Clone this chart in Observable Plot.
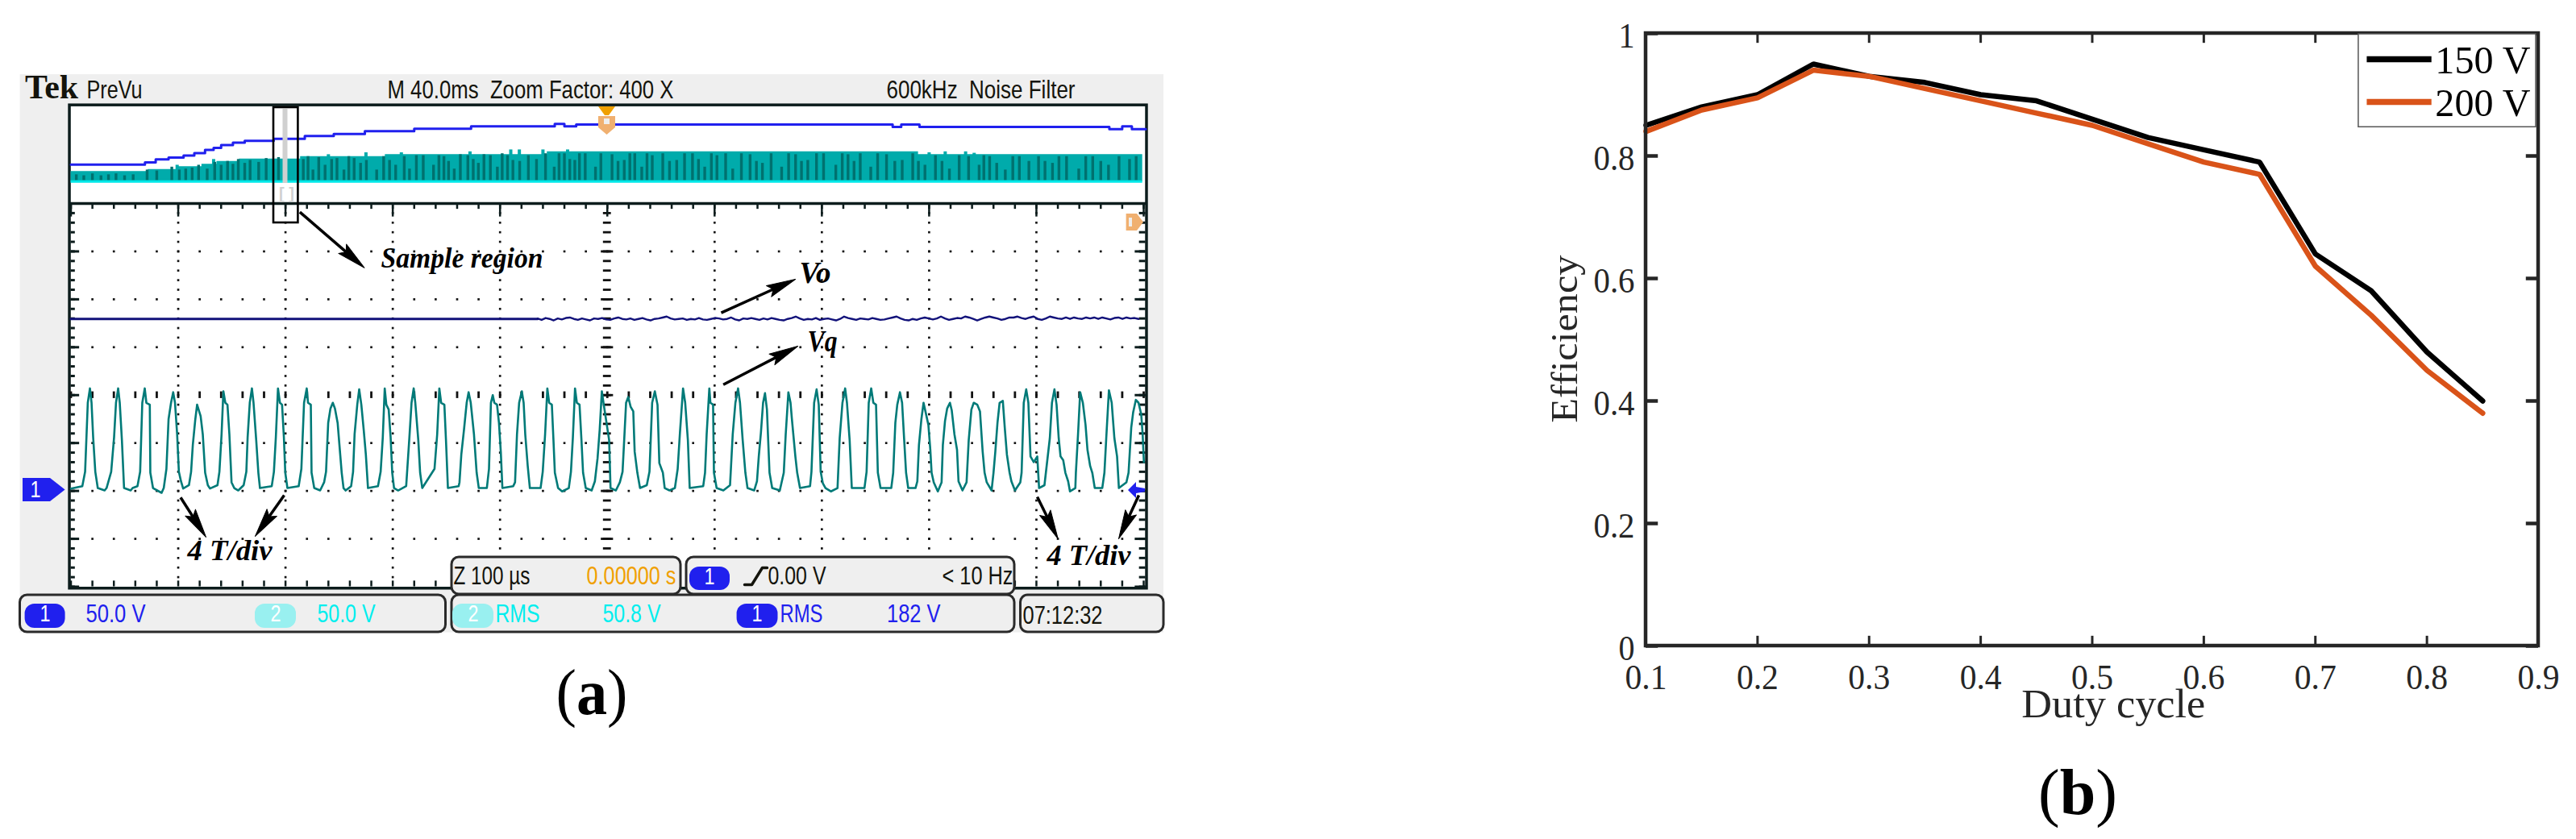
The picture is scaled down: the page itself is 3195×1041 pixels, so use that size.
<!DOCTYPE html>
<html><head><meta charset="utf-8">
<script src="https://cdn.jsdelivr.net/npm/d3@7"></script>
<script src="https://cdn.jsdelivr.net/npm/@observablehq/plot@0.6"></script>
<style>html,body{margin:0;padding:0;background:#fff}#page{position:relative;width:3195px;height:1041px;overflow:hidden;background:#fff}#page svg{position:absolute;top:0;background:transparent}</style>
</head><body><div id="page"></div>
<script>
// ---------- (b) efficiency ----------
const dutyCycle = [0.1,0.15,0.2,0.25,0.3,0.35,0.4,0.45,0.5,0.55,0.6,0.65,0.7,0.75,0.8,0.85];
const eff150 = [0.85,0.88,0.90,0.95,0.93,0.92,0.90,0.89,0.86,0.83,0.81,0.79,0.64,0.58,0.48,0.40];
const eff200 = [0.84,0.875,0.895,0.94,0.93,0.91,0.89,0.87,0.85,0.82,0.79,0.77,0.62,0.54,0.45,0.38];
const dutyTicks = [0.1,0.2,0.3,0.4,0.5,0.6,0.7,0.8,0.9];
const effTicks = [0,0.2,0.4,0.6,0.8,1];

// ---------- (a) oscilloscope: time in us, voltage in V (100 us/div, 50 V/div) ----------
const vqTrace = [[0,2.5],[10.6,5],[13.2,20],[15.7,92],[17.7,107],[19.2,92],[20.7,56],[22.7,20],[25,3],[31.4,.5],[33.2,3],
[37.5,20],[40.2,56],[42,92],[44,107],[45.5,92],[47.5,53],[49.5,3],[55.7,.5],[57.5,3],
[62,5],[64.5,20],[66.5,92],[68.8,107],[70.3,92],[73.5,90],[74,19],[76.5,3],[84.5,-2],[86.5,3],
[89,23],[91,75],[93.3,92],[95.3,103],[97,92],[99,59],[100.6,20],[102.6,10],[104.6,2.5],[110,6],
[112,20],[113.6,48],[115.8,73.5],[117.6,90],[120.9,78],[122.9,59],[125.1,19],[127.6,6],[129.6,2.5],[136.6,6],
[138.4,20],[140.4,59],[142.1,104],[143.9,92],[145.9,90],[147.7,59],[149.7,9],[152.2,3],[156,.5],[161,6],
[163.5,20],[164.7,56],[166.7,92],[168.7,107],[170.2,92],[172.7,53],[174.7,19],[176.2,3],[187.2,5],
[189.2,20],[191,56],[193,107],[194.8,92],[196.8,90],[198.5,56],[199.8,19],[201.8,3],[212.3,5],
[214.8,23],[217.3,92],[219.8,107],[221,92],[223.6,90],[224.3,19],[226.8,3],[232.3,.5],[236,9],
[237.8,20],[239.8,71],[241.9,86],[244.1,92],[246.1,86],[248.6,71],[250.6,43.5],[252.4,19],[254.1,3],[256.1,.5],[261.2,5],
[263,20],[264.4,59],[266.9,90],[268.7,106],[270.7,90],[272.9,64],[274.9,38],[276.9,3],[286.2,5],
[288.7,20],[290.7,56],[292.5,107],[294,90],[296.2,85],[298,56],[299.5,19],[301.2,3],[305,.5],[312.5,5],
[315.5,56],[317.5,92],[319.5,107],[321,92],[323.8,53],[325.5,19],[327.5,3],[338.9,23],
[341.4,59],[343.4,107],[345.1,92],[348.1,90],[349.6,53],[351.4,3],[361.4,5],[362.2,9],
[363.9,38],[366.4,64],[368.9,92],[370.7,103],[372.7,92],[375.7,59],[378.2,19],[380.2,3],[387.7,3],
[389.7,23],[391.5,92],[393.2,100],[394.7,92],[397.2,90],[399,71],[400.7,41],[402.2,3],[412.3,5],
[414,9],[415.8,59],[417.8,92],[420.3,104],[422,92],[423.5,59],[425.8,26],[427.8,3],[437.8,3],
[439.8,20],[442,59],[444.1,107],[445.8,92],[448.3,90],[449.8,53],[451.1,19],[454.1,3],[457.9,-.5],[464.1,3],
[466.1,20],[467.9,56],[469.9,107],[471.6,92],[474.1,90],[475.9,53],[477.4,19],[479.9,3],[485.4,.5],[488.4,10],
[490.9,34],[492.9,64],[494.9,104],[496.7,90],[501.7,53],[503,3],[508,.5],[511.7,9],
[514.2,20],[515.5,48],[517.5,92],[519.5,98],[521.7,88],[524.2,83],[525.5,41],[528,19],[530.5,3],[536.8,6],
[539.3,20],[541.8,92],[544.3,104],[546.8,90],[548.5,29],[551.8,19],[553.5,3],[558,.5],[563,3],
[565.6,23],[567.6,59],[570.6,107],[572.6,92],[575.1,53],[576.8,3],[589.4,5],
[591.1,19],[592.6,59],[595.1,107],[596.1,92],[598.6,90],[599.4,19],[601.9,3],[608.2,.5],[614.4,6],
[616.9,59],[619.4,92],[621.9,107],[623.7,92],[626.2,53],[628.7,19],[630.7,3],[636.9,.5],[639.5,10],
[641.2,36],[643.2,61],[645.2,92],[647,102],[648.8,85],[651.2,19],[653.7,3],[660.8,.5],[664.5,19],
[666.3,59],[668.8,103],[670.8,92],[672,76],[675.3,36],[677,19],[679.6,3],[689,5],
[690.3,20],[692.8,92],[695.1,106],[697.1,90],[698.9,20],[700.9,8],[703.4,3],[708.4,-.5],[714.6,3],
[716.6,55],[719.2,92],[721.7,107],[723.4,92],[725.9,53],[727.9,3],[739.7,3],
[741.7,20],[743.7,92],[746,107],[748,92],[750.5,90],[752.2,19],[754.7,3],[764.7,3],
[766.5,19],[768.5,71],[770.3,90],[772.8,103],[774.8,92],[776.5,58],[778.5,19],[780.5,3],[787.3,3],[789,10],
[790.5,48],[792.8,75],[794.8,92],[799.3,69],[801.1,43],[802.3,19],[804.3,9],[808.1,-.5],[811.6,9],
[812.8,48],[814.8,73],[816.8,86],[819.4,92],[821.1,84],[823.6,59],[826,43],[827.4,10],[831.1,.5],[834.9,9],
[836.9,53],[839.4,85],[841.6,92],[844.9,90],[847.4,83],[849.9,41],[851.7,19],[853.7,9],[858.2,.5],[860,19],
[861.7,41],[863.7,71],[865.7,92],[868.7,94],[870.5,66],[872.5,38],[875,19],[876.7,10],[880,.5],[885,9],
[886.2,19],[888.2,92],[890.5,106],[892.5,92],[894.5,36],[897.5,30],[900.8,36],[902.5,3],[907.5,6],
[912.5,55],[914.5,92],[916.8,106],[918.8,90],[920.8,55],[922.5,36],[925,32],[927,19],[929.6,10],[931.3,-.5],[936.3,3],
[936.8,19],[938.8,59],[940.8,103],[943.3,92],[945.8,69],[947.6,43],[950.1,26],[952.1,19],[954.4,3],[961.4,3],
[963.4,19],[965.1,55],[967.6,105],[970.2,92],[972.7,55],[975.2,36],[976.9,3],[983.9,9],
[985.9,19],[988.4,66],[990.2,82],[992.7,95],[995.2,92],[997.7,80],[999,60],[1000.2,30]];

const voFlatEnd = 435, voLevel = 179.5, voSampleStep = 3.76;
const voRipple = [180,178.5,180.5,179.5,178,180,179,180.5,181,179.5,178.5,180,179,178,180,179.5,180.5,179,178.5,180,181,179.5,179,180,178.5,179.5,180.5,179,178,179.5,
180,181,182,180,179,179.5,180,178.5,179.5,179,180.5,179,178.5,179.5,180.5,180,179,179.5,181,179,178,180,179.5,180.5,179.5,178.5,180,179,180.5,179.5,
178.5,178,179.5,180.5,182,180,178.5,179.5,179,180.5,178.5,179.5,180,179,178,179.5,182,180.5,179.5,178.5,180,179.5,179,180.5,179.5,178.5,179,180,181,182,
180,178.5,178,179.5,178.5,180,181,180,179,180,182,180,178.5,179.5,180.5,180,182,181,179.5,178,179.5,181,182,181,180,178.5,179.5,181,181,182,
180.5,179.5,181,182,179.5,178.5,180,182,181,180,179.5,181,179.5,181,180,179.5,181,180,181,179.5,181,180,179,180.5,181,179.5,181,180,180.5,179.5];

const stripBlue = [[0,340.5],[69,343],[79,346],[91,348],[105,350],[115,352.5],[125,356],[133,358],[140,361],[151,363.5],[162,365.5],[189,367.5],[218,370.5],[245,372.5],[274,375.5],[320,378],[373,380.5],[451,383],[460,380.5],[471,382.5],[766,380],[774,382.5],[791,380],[968,377.5],[980,380.5],[989,377.5],[1002,377.5]];
const stripEnvelope = [[0,333.5],[72,335.5],[99,338.5],[122,341],[136,344],[157,346.5],[214,349],[293,351],[444,354],[790,351],[999,351]];
const stripBumps = [[99,340],[133,346],[240,351],[275,353],[308,353],[372,354],[410,356],[418,356],[440,356],[463,356],[800,353],[815,354],[834,354],[842,352.5]];
const stripBaseLevel = 323;
const stripStripes = [[5,330],[12,329],[20,331],[28,329],[35,330],[42,331],[50,329],[58,330],[71,335],[80,334],[94,338],[101,335],[107,336],[113,337],[119,340],[127,336],[134,343],[140,340],[146,344],[151,341],[156,346],[162,342],[167,345],[175,343],[182,347],[193.5,348],[199,346],
[216.6,346],[221,349],[225.6,335],[231,348],[236.9,340],[243,346],[248,347],[254.5,335],[259,349],[264,347],[270,342],[275.4,345],[285,335],[291.5,349],[297,345],[302.7,340],[310.7,349],[315.6,336],[322,350],[328.4,350],[338,340],[343,350],[347.7,349],[352,344],[357.3,336],[363,351],[370,350],[375,346],[379.8,342],[385,351],[391,350],[397.5,338],[402,352],[407,350],[412,345],[418.3,344],[426.4,350],[434,346],[442.4,352],[450.5,338],[455,352],[460,352],[465,346],[469.7,345],[474,352],[479.4,352],[489,338],[494,352],
[504.4,351],[510,344],[515.8,345],[521,352],[525.6,352],[532.1,338],[537,352],[541.9,350],[551.7,352],[558,344],[564.7,345],[572,352],[579.4,352],[585,346],[590.8,338],[597,352],[602.2,350],[610.3,352],[616.9,336],[625,352],[633.1,351],[639,344],[644.6,342],[652.7,352],[662.5,338],[669,352],[675.5,351],[681,344],[686.9,345],[695,352],[701.6,352],[713,340],[719,352],[724.4,351],[730,344],[735.8,352],[745.6,338],[752,352],[760.3,351],[768,344],[774.9,345],[784.7,352],[790,344],[796.1,340],[805.9,350],[812,344],[818.9,336],[828,350],[836.8,349],[846.6,340],[851,350],[856.4,349],[863,342],[871,335],[878,349],[884.1,349],[893,344],[902,349],[908,344],[915,342],[921,349],[928.1,349],[939.5,336],[946,349],[952.5,349],[960,344],[967.2,340],[977,349],[986.8,346],[993,349]];

const divTimes = [100,200,300,400,600,700,800,900];
const divVolts = [-50,0,50,150,200,250];
const minorTimes = d3.range(0,1001,20), minorVolts = d3.range(-100,301,10);
const majorTimes = d3.range(0,1001,100), majorVolts = d3.range(-100,301,50);

// ---------- scope screen furniture, in screen units ----------
const panels = [
 {x1:24.5,x2:552.5,y1:738,y2:784},{x1:560,x2:844,y1:691,y2:737},{x1:560,x2:1258,y1:738,y2:784},
 {x1:851,x2:1258,y1:691,y2:737},{x1:1265.5,x2:1443,y1:738,y2:784}];
const blue="#2020ee", cyan="#00eeee", pale="#99f0f0", orange="#f0a000", ink="#14140c";
const badges = [
 {x1:30.6,x2:80.6,y1:749,y2:779,c:blue},{x1:316,x2:367,y1:749,y2:779,c:pale},{x1:561,x2:612,y1:749,y2:779,c:pale},
 {x1:913.6,x2:964.5,y1:749,y2:779,c:blue},{x1:855,x2:905,y1:703,y2:732,c:blue}];
const sans="Liberation Sans", serif="Liberation Serif";
const labels = [
 {t:"Tek",x:30.6,y:108,w:66,s:42,f:serif,b:"bold",c:ink},
 {t:"PreVu",x:107,y:111.7,w:69,s:32,c:ink},
 {t:"M 40.0ms  Zoom Factor: 400 X",x:480,y:111.7,w:355,s:32,c:ink},
 {t:"600kHz  Noise Filter",x:1099,y:111.7,w:234,s:32,c:ink},
 {t:"50.0 V",x:106,y:761.7,w:74,s:32,c:blue},
 {t:"50.0 V",x:393,y:761.7,w:72,s:32,c:cyan},
 {t:"RMS",x:614,y:761.7,w:55,s:32,c:cyan},
 {t:"50.8 V",x:747,y:761.7,w:72,s:32,c:cyan},
 {t:"RMS",x:967,y:761.7,w:53,s:32,c:blue},
 {t:"182 V",x:1099.5,y:761.7,w:66.5,s:32,c:blue},
 {t:"07:12:32",x:1268,y:763,w:99,s:32,c:ink},
 {t:"Z 100 µs",x:562,y:714,w:95,s:32,c:ink},
 {t:"0.00000 s",x:727,y:714,w:111,s:32,c:orange},
 {t:"0.00 V",x:952,y:714,w:72,s:32,c:ink},
 {t:"< 10 Hz",x:1168,y:714,w:88,s:32,c:ink},
 {t:"1",x:49,y:761,w:13,s:30,c:"#fff"},{t:"2",x:335,y:761,w:13,s:30,c:"#fff"},{t:"2",x:580,y:761,w:13,s:30,c:"#fff"},
 {t:"1",x:932,y:761,w:13,s:30,c:"#fff"},{t:"1",x:873,y:715,w:13,s:30,c:"#fff"},{t:"1",x:37,y:607,w:13,s:30,c:"#fff"},
 {t:"Sample region",x:472,y:320,w:201,s:36,f:serif,i:1,b:"bold",c:"#000"},
 {t:"Vo",x:991,y:338,w:39,s:38,f:serif,i:1,b:"bold",c:"#000"},
 {t:"Vq",x:1001,y:423,w:37,s:38,f:serif,i:1,b:"bold",c:"#000"},
 {t:"4 T/div",x:232,y:683,w:105,s:36,f:serif,i:1,b:"bold",c:"#000"},
 {t:"4 T/div",x:1298,y:689,w:104,s:36,f:serif,i:1,b:"bold",c:"#000"},
 {t:"(a)",x:689,y:860,w:89,s:80,f:serif,c:"#000",bold:"a"}];
const callouts = [
 {x1:371.4,y1:262.7,x2:451.5,y2:331.7},{x1:894,y1:387.7,x2:986,y2:346},{x1:896.6,y1:476.7,x2:989,y2:429},
 {x1:223.5,y1:616.7,x2:255,y2:666},{x1:352,y1:614,x2:316,y2:665},{x1:1286,y1:616,x2:1311.7,y2:668},{x1:1412,y1:614,x2:1387,y2:668}];
const triggerEdge = [{x:923,y:725},{x:932,y:725},{x:945,y:704},{x:951,y:704}];
const ch1Marker = [{x:28,a:593,b:622},{x:62,a:593,b:622},{x:80.6,a:607.5,b:607.5}];
const endMarker = [{x:1396.6,a:265,b:286},{x:1410,a:265,b:286},{x:1418,a:275.5,b:275.5}];
const blueArrow = [{x:1399,a:608,b:608},{x:1409,a:598,b:618},{x:1409,a:604,b:612},{x:1420,a:606,b:610}];
const trigPale = [{y:144,a:742,b:763},{y:158,a:742,b:763},{y:167,a:752.5,b:752.5}];
const trigOrange = [{y:132,a:742,b:763},{y:143,a:750,b:755}];

const page = document.getElementById("page");
function place(svg,left){svg.style.left=left+"px";page.appendChild(svg);}

function fit(l){return (index,scales,values,dims,ctx,next)=>{
  const g=next(index,scales,values,dims,ctx);
  const sel=d3.select(g).selectAll("text");
  if(l.bold) sel.html(l.t.replace(l.bold,`<tspan font-weight="bold">${l.bold}</tspan>`));
  if(l.w) sel.attr("textLength",l.w).attr("lengthAdjust","spacingAndGlyphs");
  return g;};}

const arrowHead = {draw(ctx,l){ctx.moveTo(0,-l);ctx.lineTo(-7.5,2);ctx.lineTo(0,-4);ctx.lineTo(7.5,2);ctx.closePath();}};

// layer 1: the trace display, through time and voltage scales
const frameDark="#0c1c1c";
place(Plot.plot({
  width:1470,height:1041,marginLeft:87.5,marginRight:52,marginTop:252,marginBottom:313.5,
  x:{domain:[0,1000],axis:null},y:{domain:[-100,300],axis:null},
  marks:[
    Plot.rect([{a:-47.3,b:1018.8,c:-148,d:434.5}],{x1:"a",x2:"b",y1:"c",y2:"d",fill:"#efefef"}),
    Plot.rect([{a:-1.1,b:1003,c:-101.9,d:402.5}],{x1:"a",x2:"b",y1:"c",y2:"d",fill:"#fff",stroke:frameDark,strokeWidth:3.5}),
    // grid dots
    Plot.dot(d3.cross(divTimes,minorVolts.filter(v=>v>-100&&v<300)),{x:d=>d[0],y:d=>d[1],symbol:"square",r:1.5,fill:"#111"}),
    Plot.dot(d3.cross(minorTimes.filter(t=>t>0&&t<1000),divVolts),{x:d=>d[0],y:d=>d[1],symbol:"square",r:1.5,fill:"#111"}),
    // centre cross
    Plot.ruleY(minorVolts.filter(v=>v>-100&&v<300),{y:d=>d,x1:496.3,x2:503.7,stroke:"#111",strokeWidth:2.8}),
    Plot.ruleY(majorVolts.filter(v=>v>-100&&v<300),{y:d=>d,x1:494.3,x2:505.7,stroke:"#111",strokeWidth:2.8}),
    Plot.ruleX(minorTimes,{x:d=>d,y1:96.5,y2:103.5,stroke:"#111",strokeWidth:2.8}),
    // edge ticks
    Plot.ruleX(minorTimes,{x:d=>d,y1:300,y2:294,stroke:frameDark,strokeWidth:2.5}),
    Plot.ruleX(majorTimes,{x:d=>d,y1:300,y2:286,stroke:frameDark,strokeWidth:2.5}),
    Plot.ruleX(minorTimes,{x:d=>d,y1:-100,y2:-94,stroke:frameDark,strokeWidth:2.5}),
    Plot.ruleY(minorVolts,{y:d=>d,x1:0,x2:4,stroke:frameDark,strokeWidth:3}),
    Plot.ruleY(majorVolts,{y:d=>d,x1:0,x2:8,stroke:frameDark,strokeWidth:3}),
    Plot.ruleY(minorVolts,{y:d=>d,x1:996,x2:1002,stroke:frameDark,strokeWidth:3}),
    Plot.ruleY(majorVolts,{y:d=>d,x1:992,x2:1002,stroke:frameDark,strokeWidth:3}),
    Plot.ruleY([300],{x1:-1.1,x2:1003,stroke:frameDark,strokeWidth:3.5}),
    // overview strip
    Plot.areaY(stripEnvelope,{x:d=>d[0],y1:stripBaseLevel,y2:d=>d[1],fill:"#00abab",curve:"step-after"}),
    Plot.ruleX(stripBumps,{x:d=>d[0],y1:stripBaseLevel,y2:d=>d[1],stroke:"#00abab",strokeWidth:4}),
    Plot.ruleX(stripStripes,{x:d=>d[0],y1:stripBaseLevel+1,y2:d=>d[1],stroke:"#00716f",strokeWidth:3.4}),
    Plot.ruleY([stripBaseLevel],{x1:0,x2:999,stroke:"#00e8e8",strokeWidth:3}),
    Plot.line(stripBlue,{x:d=>d[0],y:d=>d[1],stroke:blue,strokeWidth:3,curve:"step-after"}),
    // traces
    Plot.line([[0,voLevel],[voFlatEnd,voLevel]],{x:d=>d[0],y:d=>d[1],stroke:"#12127a",strokeWidth:3.2}),
    Plot.line(voRipple,{x:(d,i)=>voFlatEnd+i*voSampleStep,y:d=>d,stroke:"#12127a",strokeWidth:2.4}),
    Plot.line(vqTrace,{x:d=>d[0],y:d=>d[1],stroke:"#007a78",strokeWidth:2.6})
  ]}),0);

// layer 2: scope screen furniture and annotations
place(Plot.plot({
  width:1470,height:1041,margin:0,
  x:{domain:[0,1470],range:[0,1470],axis:null},y:{domain:[0,1041],range:[0,1041],axis:null},
  marks:[
    Plot.rect(panels,{x1:"x1",x2:"x2",y1:"y1",y2:"y2",fill:"#efefef",stroke:"#2a2a2a",strokeWidth:3,rx:9}),
    ...badges.map(b=>Plot.rect([b],{x1:"x1",x2:"x2",y1:"y1",y2:"y2",fill:b.c,rx:12})),
    Plot.line(triggerEdge,{x:"x",y:"y",stroke:ink,strokeWidth:3.5}),
    Plot.areaY(ch1Marker,{x:"x",y1:"a",y2:"b",fill:blue}),
    Plot.areaY(endMarker,{x:"x",y1:"a",y2:"b",fill:"#f0b070"}),
    Plot.areaY(blueArrow,{x:"x",y1:"a",y2:"b",fill:blue}),
    Plot.areaX(trigPale,{y:"y",x1:"a",x2:"b",fill:"#f0b070"}),
    Plot.areaX(trigOrange,{y:"y",x1:"a",x2:"b",fill:orange}),
    Plot.rect([{x1:749,x2:756,y1:147,y2:154},{x1:1400,x2:1404,y1:270,y2:281}],{x1:"x1",x2:"x2",y1:"y1",y2:"y2",fill:"#eee"}),
    // sample region
    Plot.rect([{x1:350.5,x2:356.5,y1:135,y2:227}],{x1:"x1",x2:"x2",y1:"y1",y2:"y2",fill:"#d0d0d0"}),
    Plot.text(["[ ]"],{x:()=>355,y:()=>240,text:d=>d,fontSize:20,fill:"#d0d0d0",fontFamily:sans,fontWeight:"bold"}),
    Plot.rect([{x1:339,x2:369.4,y1:133,y2:276}],{x1:"x1",x2:"x2",y1:"y1",y2:"y2",fill:"none",stroke:"#000",strokeWidth:2.6}),
    Plot.link(callouts,{x1:"x1",y1:"y1",x2:d=>d.x2-(d.x2-d.x1)*0.15,y2:d=>d.y2-(d.y2-d.y1)*0.15,stroke:"#000",strokeWidth:3.5}),
    Plot.vector(callouts,{x:"x2",y:"y2",rotate:d=>Math.atan2(d.x2-d.x1,-(d.y2-d.y1))*180/Math.PI,length:34,anchor:"end",shape:arrowHead,fill:"#000",stroke:"#000",strokeWidth:1}),
    ...labels.map(l=>Plot.text([l],{x:"x",y:"y",text:"t",textAnchor:"start",lineAnchor:"middle",fill:l.c,fontSize:l.s,
      fontFamily:l.f||sans,fontWeight:l.b||"normal",fontStyle:l.i?"italic":"normal",render:fit(l)}))
  ]}),0);

// panel (b)
const rows = dutyCycle.map((d,i)=>({d,e150:eff150[i],e200:eff200[i]}));
const axisInk="#262626";
const texts = [
 {t:"Efficiency",x:0.0277,y:0.501,s:46,w:208,r:-90,a:"middle",c:axisInk},
 {t:"Duty cycle",x:0.519,y:-0.096,s:50,w:228,a:"middle",c:axisInk},
 {t:"(b)",x:0.487,y:-0.24,s:80,w:98,a:"middle",c:"#000",bold:"b"},
 {t:"150 V",x:0.8074,y:0.955,s:49,w:118,a:"start",c:"#000"},
 {t:"200 V",x:0.8074,y:0.8855,s:49,w:118,a:"start",c:"#000"}];
const fmtY = d=>d===0||d===1?String(d):d.toFixed(1);
const eff = Plot.plot({
  width:1725,height:1041,marginLeft:571,marginRight:47,marginTop:41,marginBottom:240,
  style:{fontFamily:serif},
  x:{domain:[0.1,0.9],axis:null},y:{domain:[0,1],axis:null},
  marks:[
    ...dutyTicks.map(d=>Plot.text([d],{x:v=>v,y:()=>-0.0513,text:v=>v.toFixed(1),fontSize:44,fill:axisInk,fontFamily:serif,lineAnchor:"middle",render:fit({w:52})})),
    ...effTicks.map(d=>Plot.text([d],{x:()=>0.0899,y:v=>v,dy:3.5,text:fmtY,fontSize:44,fill:axisInk,fontFamily:serif,textAnchor:"end",lineAnchor:"middle",render:fit({w:fmtY(d).length>1?51:20})})),
    Plot.ruleX(dutyTicks,{x:d=>d,y1:0,y2:0.016,stroke:axisInk,strokeWidth:3}),
    Plot.ruleX(dutyTicks,{x:d=>d,y1:1,y2:0.984,stroke:axisInk,strokeWidth:3}),
    Plot.ruleY(effTicks,{y:d=>d,x1:0.1,x2:0.111,stroke:axisInk,strokeWidth:4.5}),
    Plot.ruleY(effTicks,{y:d=>d,x1:0.889,x2:0.9,stroke:axisInk,strokeWidth:4.5}),
    Plot.line(rows,{x:"d",y:"e150",stroke:"#000",strokeWidth:6.5,strokeLinejoin:"miter"}),
    Plot.line(rows,{x:"d",y:"e200",stroke:"#d95319",strokeWidth:6.5,strokeLinejoin:"miter"}),
    Plot.rect([{a:0.1,b:0.9,c:0,d:1}],{x1:"a",x2:"b",y1:"c",y2:"d",fill:"none",stroke:axisInk,strokeWidth:4.5}),
    Plot.rect([{a:0.7388,b:0.8978,c:0.847,d:0.9987}],{x1:"a",x2:"b",y1:"c",y2:"d",fill:"#fff",stroke:"#555",strokeWidth:1.5}),
    Plot.ruleY([0.958],{x1:0.7464,x2:0.8044,stroke:"#000",strokeWidth:7.5}),
    Plot.ruleY([0.888],{x1:0.7464,x2:0.8044,stroke:"#d95319",strokeWidth:7.5}),
    ...texts.map(l=>Plot.text([l],{x:"x",y:"y",text:"t",textAnchor:l.a,lineAnchor:"middle",fill:l.c,fontSize:l.s,rotate:l.r||0,fontFamily:serif,render:fit(l)}))
  ]});
place(eff,1470);
</script></body></html>
